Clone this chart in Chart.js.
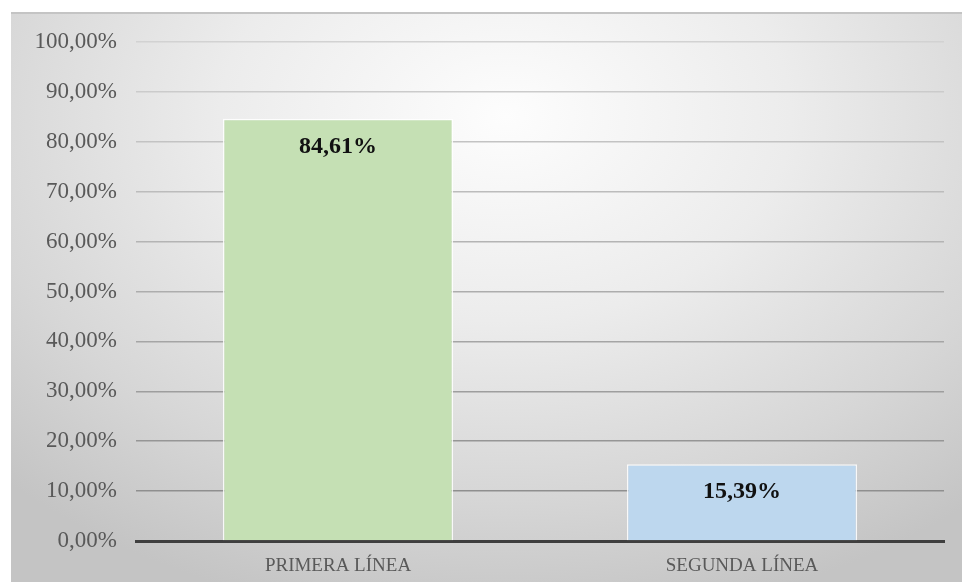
<!DOCTYPE html>
<html>
<head>
<meta charset="utf-8">
<script src="https://cdn.jsdelivr.net/npm/chart.js@4.4.0/dist/chart.umd.min.js"></script>
<style>
  html, body { margin: 0; padding: 0; background: #fff; }
  #wrap {
    position: absolute; left: 11px; top: 12px; width: 951px; height: 570px;
    background: radial-gradient(ellipse 75% 90% at 52% 18%, #fdfdfd 0%, #ececec 40%, #d6d6d6 75%, #c4c4c4 100%);
    border-top: 2px solid #c4c4c4;
    box-sizing: border-box;
  }
  canvas { display: block; }
</style>
</head>
<body>
<div id="wrap"><canvas id="barChart" width="951" height="568"></canvas></div>
<script>
const categories = ["PRIMERA LÍNEA", "SEGUNDA LÍNEA"];
const values = [84.61, 15.39];
const barColors = ["#c5e0b4", "#bdd7ee"];

function pct(v, d) {
  return v.toFixed(d).replace(".", ",") + "%";
}

// labels inside the bars, near the top
const barLabels = {
  id: "barLabels",
  afterDatasetsDraw(chart) {
    const ctx = chart.ctx;
    const meta = chart.getDatasetMeta(0);
    ctx.save();
    ctx.font = "bold 24px 'Liberation Serif'";
    ctx.fillStyle = "#111";
    ctx.textAlign = "center";
    ctx.textBaseline = "middle";
    meta.data.forEach((bar, i) => {
      ctx.fillText(pct(values[i], 2), bar.x, bar.y + 28);
    });
    ctx.restore();
  },
};

var ctx = document.getElementById("barChart").getContext("2d");
var barChart = new Chart(ctx, {
  type: "bar",
  data: {
    labels: categories,
    datasets: [
      {
        data: values,
        backgroundColor: barColors,
        borderColor: "rgba(255,255,255,0.85)",
        borderWidth: 1.5,
        categoryPercentage: 1,
        barPercentage: 0.57,
      },
    ],
  },
  options: {
    responsive: false,
    animation: false,
    layout: { padding: { top: 28, right: 18, left: 0, bottom: 1 } },
    plugins: {
      legend: { display: false },
      tooltip: { enabled: false },
    },
    scales: {
      x: {
        grid: { display: false },
        border: { display: true, color: "#3f3f3f", width: 3 },
        ticks: {
          color: "#595959",
          font: { family: "'Liberation Serif'", size: 19 },
          padding: 6,
        },
        afterFit(scale) { scale.height = 40; },
      },
      y: {
        min: 0,
        max: 100,
        border: { display: false },
        grid: {
          lineWidth: 1.5,
          color: (c) => {
            if (c.index === 0) return "rgba(0,0,0,0)";
            const t = c.index / 10;
            const g = Math.round(135 + 75 * t);
            return "rgb(" + g + "," + g + "," + g + ")";
          },
          drawTicks: false,
        },
        ticks: {
          stepSize: 10,
          color: "#595959",
          padding: 19,
          font: { family: "'Liberation Serif'", size: 23 },
          callback: (v) => pct(v, 2),
        },
        afterFit(scale) {
          scale.width = 125;
          scale.paddingTop = 0;
          scale.paddingBottom = 0;
        },
      },
    },
  },
  plugins: [barLabels],
});
</script>
</body>
</html>
